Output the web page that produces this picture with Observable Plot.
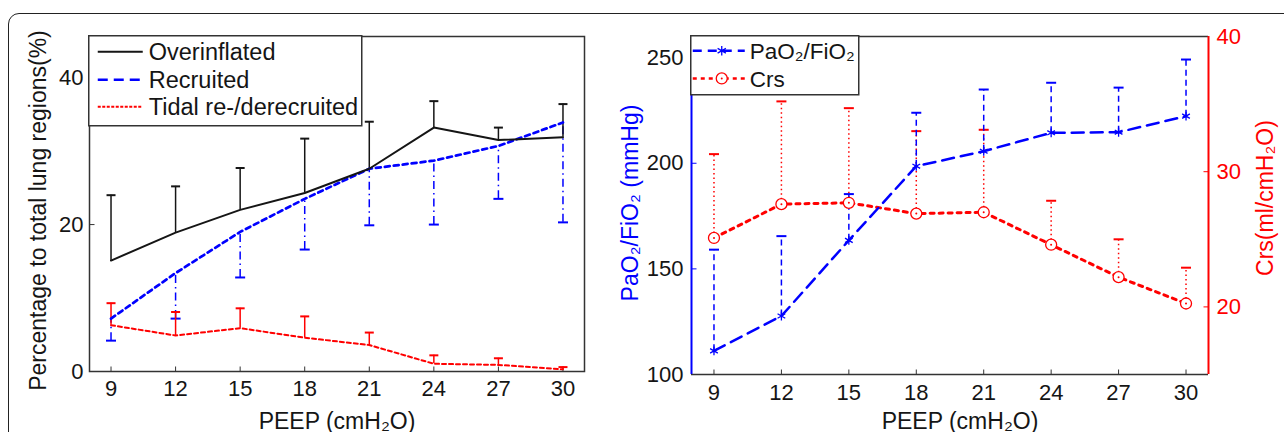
<!DOCTYPE html>
<html><head><meta charset="utf-8">
<script src="https://cdn.jsdelivr.net/npm/d3@7"></script>
<script src="https://cdn.jsdelivr.net/npm/@observablehq/plot@0.6"></script>
<style>
body{margin:0;width:1284px;height:432px;overflow:hidden;background:#fff;font-family:"Liberation Sans",Arial,sans-serif;position:relative}
#border{position:absolute;left:8px;top:13px;width:1320px;height:470px;border:1.5px solid #222;border-radius:11px;box-sizing:border-box}
.abs{position:absolute;top:0}
</style></head><body>
<div id="border"></div>
<div id="left" class="abs" style="left:0"></div>
<div id="right" class="abs" style="left:600px"></div>
<script>
// ---------- data ----------
const peep = [9, 12, 15, 18, 21, 24, 27, 30];
const overinflated      = [15.1, 18.9, 22.0, 24.3, 27.6, 33.2, 31.5, 31.9];
const overinflatedUpper = [24.0, 25.2, 27.7, 31.7, 34.0, 36.8, 33.2, 36.4];
const recruited         = [7.2, 13.4, 19.0, 23.5, 27.6, 28.7, 30.7, 33.9];
const recruitedLower    = [4.2, 7.2, 12.8, 16.6, 19.9, 20.0, 23.5, 20.3];
const tidal             = [6.3, 4.9, 5.9, 4.6, 3.6, 1.05, 0.9, 0.3];
const tidalUpper        = [9.3, 8.1, 8.6, 7.5, 5.3, 2.2, 1.8, 0.6];

const pao2      = [111.2, 127.7, 163.5, 198.6, 205.7, 214.4, 214.7, 222.3];
const pao2Upper = [159.1, 165.5, 185.4, 223.9, 234.9, 238.1, 235.8, 249.1];
const crs       = [25.1, 27.6, 27.7, 26.9, 27.0, 24.6, 22.2, 20.25];
const crsUpper  = [31.3, 35.2, 34.7, 33.0, 33.1, 27.85, 25.0, 22.9];

const leftYTicks = [0, 20, 40];
const pTicks = [100, 150, 200, 250];
const cTicks = [20, 30, 40];
const xDomain = [8, 31];
const leftYDomain = [0, 45.6];
const pDomain = [100, 260];
const cDomain = [15, 40];

const xLabel = "PEEP (cmH\u2082O)";
const leftYLabel = "Percentage to total lung regions(%)";
const pLabel = "PaO\u2082/FiO\u2082 (mmHg)";
const cLabel = "Crs(ml/cmH\u2082O)";
const leftLegend = ["Overinflated", "Recruited", "Tidal re-/derecruited"];
const rightLegend = ["PaO\u2082/FiO\u2082", "Crs"];

const FONT = '"Liberation Sans", Arial, sans-serif';
const BLUE = "#0000ff", RED = "#ff0000", INK = "#151515";

// ---------- helpers ----------
const rad = s => Math.sqrt(s / Math.PI);
const capSym = {draw(c, s){const r = rad(s); c.moveTo(-r, 0); c.lineTo(r, 0);}};
const tickUp = {draw(c, s){const r = rad(s); c.moveTo(0, 0); c.lineTo(0, -r);}};
const tickRightward = {draw(c, s){const r = rad(s); c.moveTo(0, 0); c.lineTo(r, 0);}};
const tickLeftward = {draw(c, s){const r = rad(s); c.moveTo(0, 0); c.lineTo(-r, 0);}};
const c2p = c => pDomain[0] + (c - cDomain[0]) * (pDomain[1] - pDomain[0]) / (cDomain[1] - cDomain[0]);
const p2c = p => cDomain[0] + (p - pDomain[0]) * (cDomain[1] - cDomain[0]) / (pDomain[1] - pDomain[0]);

// ---------- left panel ----------
const L = peep.map((p, i) => ({peep: p, over: overinflated[i], overU: overinflatedUpper[i],
  rec: recruited[i], recL: recruitedLower[i], tid: tidal[i], tidU: tidalUpper[i]}));

const left = Plot.plot({
  width: 640, height: 432, marginLeft: 89, marginRight: 56, marginTop: 36, marginBottom: 61,
  style: {fontFamily: FONT, fontSize: "22px", color: INK, background: "transparent", overflow: "visible"},
  x: {domain: xDomain},
  y: {domain: leftYDomain},
  marks: [
    Plot.axisX(peep, {tickSize: 0, tickPadding: 9, fontSize: 22, label: null}),
    Plot.axisY(leftYTicks, {tickSize: 0, tickPadding: 6, fontSize: 22, label: null}),
    Plot.dot(peep, {x: d => d, frameAnchor: "bottom", symbol: tickUp, r: 5, stroke: "#333", fill: "none", strokeWidth: 1}),
    Plot.dot(leftYTicks, {y: d => d, frameAnchor: "left", symbol: tickRightward, r: 5, stroke: "#333", fill: "none", strokeWidth: 1}),
    // error bars
    Plot.ruleX(L, {x: "peep", y1: "recL", y2: "rec", stroke: BLUE, strokeWidth: 1.5, strokeDasharray: "8,4,1.5,4"}),
    Plot.dot(L, {x: "peep", y: "recL", symbol: capSym, r: 5, stroke: BLUE, fill: "none", strokeWidth: 2}),
    Plot.ruleX(L, {x: "peep", y1: "tid", y2: "tidU", stroke: RED, strokeWidth: 1.5}),
    Plot.dot(L, {x: "peep", y: "tidU", symbol: capSym, r: 4.5, stroke: RED, fill: "none", strokeWidth: 2}),
    Plot.ruleX(L, {x: "peep", y1: "over", y2: "overU", stroke: INK, strokeWidth: 1.5}),
    Plot.dot(L, {x: "peep", y: "overU", symbol: capSym, r: 4.5, stroke: INK, fill: "none", strokeWidth: 2}),
    // lines
    Plot.line(L, {x: "peep", y: "tid", stroke: RED, strokeWidth: 2, strokeDasharray: "4,3"}),
    Plot.line(L, {x: "peep", y: "rec", stroke: BLUE, strokeWidth: 2.7, strokeDasharray: "5,4"}),
    Plot.line(L, {x: "peep", y: "over", stroke: INK, strokeWidth: 2}),
    Plot.frame({stroke: "#333", strokeWidth: 1.5}),
    Plot.text([leftYLabel], {text: d => d, frameAnchor: "left", textAnchor: "middle", lineAnchor: "middle", dx: -51, dy: 6.5, rotate: -90, fontSize: 23, fill: INK}),
    Plot.text([xLabel], {text: d => d, frameAnchor: "bottom", textAnchor: "middle", lineAnchor: "middle", dy: 50, fontSize: 23, fill: INK})
  ]
});
document.getElementById("left").append(left);

// ---------- right panel ----------
const R = peep.map((p, i) => ({peep: p, p: pao2[i], pU: pao2Upper[i], c: crs[i], cU: crsUpper[i]}));

const right = Plot.plot({
  width: 684, height: 432, marginLeft: 91, marginRight: 76, marginTop: 36, marginBottom: 58,
  style: {fontFamily: FONT, fontSize: "22px", color: INK, background: "transparent", overflow: "visible"},
  x: {domain: xDomain},
  y: {domain: pDomain},
  marks: [
    Plot.axisX(peep, {tickSize: 0, tickPadding: 9.5, fontSize: 22, label: null}),
    Plot.axisY(pTicks, {anchor: "left", tickSize: 0, tickPadding: 8, fontSize: 22, label: null}),
    Plot.axisY(cTicks.map(c2p), {anchor: "right", tickSize: 0, tickPadding: 8, fontSize: 22, label: null,
      tickFormat: d => String(Math.round(p2c(d))), color: RED}),
    Plot.dot(peep, {x: d => d, frameAnchor: "bottom", symbol: tickUp, r: 5, stroke: "#333", fill: "none", strokeWidth: 1}),
    Plot.dot(pTicks, {y: d => d, frameAnchor: "left", symbol: tickRightward, r: 5, stroke: BLUE, fill: "none", strokeWidth: 1}),
    Plot.dot(cTicks.map(c2p), {y: d => d, frameAnchor: "right", symbol: tickLeftward, r: 5, stroke: RED, fill: "none", strokeWidth: 1}),
    Plot.ruleY([pDomain[0], pDomain[1]], {stroke: "#333", strokeWidth: 1.5}),
    Plot.ruleX([xDomain[0]], {stroke: BLUE, strokeWidth: 2}),
    Plot.ruleX([xDomain[1]], {stroke: RED, strokeWidth: 2}),
    // error bars
    Plot.ruleX(R, {x: "peep", y1: d => c2p(d.c), y2: d => c2p(d.cU), stroke: RED, strokeWidth: 1.5, strokeDasharray: "1.5,3"}),
    Plot.dot(R, {x: "peep", y: d => c2p(d.cU), symbol: capSym, r: 5, stroke: RED, fill: "none", strokeWidth: 2}),
    Plot.ruleX(R, {x: "peep", y1: "p", y2: "pU", stroke: BLUE, strokeWidth: 1.5, strokeDasharray: "6,4"}),
    Plot.dot(R, {x: "peep", y: "pU", symbol: capSym, r: 5, stroke: BLUE, fill: "none", strokeWidth: 2}),
    // lines
    Plot.line(R, {x: "peep", y: d => c2p(d.c), stroke: RED, strokeWidth: 3, strokeDasharray: "4,5"}),
    Plot.line(R, {x: "peep", y: "p", stroke: BLUE, strokeWidth: 2.5, strokeDasharray: "12,7"}),
    Plot.dot(R, {x: "peep", y: d => c2p(d.c), r: 5.5, stroke: RED, fill: "white", strokeWidth: 1.3}),
    Plot.dot(R, {x: "peep", y: d => c2p(d.c), r: 1, fill: RED}),
    Plot.dot(R, {x: "peep", y: "p", symbol: "asterisk", r: 4.2, stroke: BLUE, strokeWidth: 1.3}),
    Plot.text([pLabel], {text: d => d, frameAnchor: "left", textAnchor: "middle", lineAnchor: "middle", dx: -61, dy: -2.5, rotate: -90, fontSize: 23, fill: BLUE}),
    Plot.text([cLabel], {text: d => d, frameAnchor: "right", textAnchor: "middle", lineAnchor: "middle", dx: 57, dy: -7.5, rotate: -90, fontSize: 23, fill: RED}),
    Plot.text([xLabel], {text: d => d, frameAnchor: "bottom", textAnchor: "middle", lineAnchor: "middle", dx: 10, dy: 47, fontSize: 23, fill: INK})
  ]
});
document.getElementById("right").append(right);

// ---------- legends ----------
function legend(left, top, w, h, fontSize, rows) {
  const svg = d3.select("body").append("svg")
    .attr("width", w + 2).attr("height", h + 2)
    .style("position", "absolute").style("left", (left - 0.75) + "px").style("top", (top - 0.75) + "px")
    .style("font-family", FONT);
  svg.append("rect").attr("x", 0.75).attr("y", 0.75).attr("width", w).attr("height", h)
    .attr("fill", "white").attr("stroke", "#333").attr("stroke-width", 1.5);
  rows.forEach(r => {
    const g = svg.append("g").attr("transform", `translate(0.75,${r.y + 0.75})`);
    g.append("line").attr("x1", r.x1).attr("x2", r.x2).attr("y1", 0).attr("y2", 0)
      .attr("stroke", r.stroke).attr("stroke-width", r.width).attr("stroke-dasharray", r.dash);
    if (r.marker === "asterisk") {
      g.append("path").attr("transform", `translate(${r.mx},0)`)
        .attr("d", d3.symbol(d3.symbolAsterisk, 64)()).attr("fill", "none").attr("stroke", r.stroke).attr("stroke-width", 1.3);
    }
    if (r.marker === "circle") {
      g.append("circle").attr("cx", r.mx).attr("r", 5.5).attr("fill", "white").attr("stroke", r.stroke).attr("stroke-width", 1.3);
      g.append("circle").attr("cx", r.mx).attr("r", 1).attr("fill", r.stroke);
    }
    g.append("text").attr("x", r.tx).attr("y", 0).attr("dy", "0.36em")
      .attr("font-size", fontSize).attr("fill", INK).text(r.label);
  });
}
legend(89, 36, 273, 90, 23.5, [
  {label: leftLegend[0], y: 16, x1: 9, x2: 54, tx: 60, stroke: INK, width: 2, dash: null},
  {label: leftLegend[1], y: 44, x1: 9, x2: 54, tx: 60, stroke: BLUE, width: 2.5, dash: "10,6"},
  {label: leftLegend[2], y: 71, x1: 9, x2: 54, tx: 60, stroke: RED, width: 2, dash: "3,1.5"}
]);
legend(691, 36, 168, 59, 22.5, [
  {label: rightLegend[0], y: 15, x1: 2, x2: 54, tx: 59, stroke: BLUE, width: 2.5, dash: "9,6", marker: "asterisk", mx: 31},
  {label: rightLegend[1], y: 42.7, x1: 2, x2: 54, tx: 59, stroke: RED, width: 2.5, dash: "4,4", marker: "circle", mx: 31}
]);
</script>
</body></html>
